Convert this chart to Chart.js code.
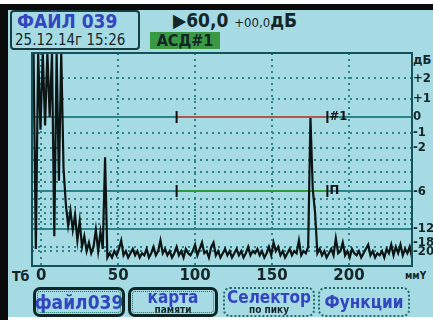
<!DOCTYPE html>
<html>
<head>
<meta charset="utf-8">
<script src="https://cdn.jsdelivr.net/npm/chart.js@4"></script>
<style>
  html, body { margin: 0; padding: 0; background: #fff; }
  body { width: 433px; height: 320px; position: relative; overflow: hidden;
         font-family: 'DejaVu Sans Condensed', 'DejaVu Sans', sans-serif; font-stretch: condensed; }
  .abs { position: absolute; }
  #edgeT { left: 0; top: 4px; width: 433px; height: 6px; background: #0b0b0b; }
  #edgeL { left: 0; top: 4px; width: 8px; height: 316px; background: #0b0b0b; }
  #lcd { left: 8px; top: 10px; width: 425px; height: 307px; background: #a7dbe4; }
  #chart { left: 0; top: 0; }
  #fileBox { left: 10px; top: 10px; width: 130px; height: 40px; box-sizing: border-box;
             border: 2px solid #173c40; border-radius: 4px; }
  .txt { white-space: nowrap; font-weight: bold; color: #142628; }
  #fileName { left: 17px; top: 12px; font-size: 19px; line-height: 19px; color: #3246be; }
  #fileDate { left: 15px; top: 33px; font-size: 15px; line-height: 15px; font-weight: normal; }
  #gain { left: 173px; top: 11px; font-size: 19px; line-height: 19px; }
  #gain .small { font-size: 13px; font-weight: normal; }
  #mode { left: 150px; top: 32px; width: 70px; height: 17px; background: #3a9a44;
          font-size: 16px; line-height: 17px; text-align: center; }
  #unitDb { left: 413px; top: 53px; font-size: 13px; line-height: 13px; }
  #unitT { left: 12px; top: 269px; font-size: 14px; line-height: 14px; }
  #unitMm { left: 405px; top: 271px; font-size: 10px; line-height: 10px; }
  .btn { top: 287px; height: 30px; box-sizing: border-box; border-radius: 7px;
         display: flex; flex-direction: column; align-items: center; justify-content: center; }
  .btn.solid { border: 3px solid #0e2626; outline: 1px dotted #1a7070; outline-offset: -5px; }
  .btn.dot { border: 2px dotted #1e6e70; }
  .btn .main { font-size: 17px; line-height: 16px; color: #3246be; font-weight: bold; }
  .btn .sub { font-size: 10px; line-height: 10px; color: #142628; font-weight: bold; }
</style>
</head>
<body>
<div class="abs" id="edgeT"></div>
<div class="abs" id="edgeL"></div>
<div class="abs" id="lcd"></div>
<div class="abs" id="fileBox"></div>
<div class="abs txt" id="fileName">ФАЙЛ 039</div>
<div class="abs txt" id="fileDate">25.12.14г 15:26</div>
<div class="abs txt" id="gain">▶60,0 <span class="small">+00,0</span>дБ</div>
<div class="abs txt" id="mode">АСД#1</div>
<div class="abs txt" id="unitDb">дБ</div>
<div class="abs txt" id="unitT">Тб</div>
<div class="abs txt" id="unitMm">ммY</div>
<canvas class="abs" id="chart" width="433" height="320"></canvas>
<div class="abs btn solid" style="left:33px;width:92px"><span class="main" style="font-size:19px">файл039</span></div>
<div class="abs btn solid" style="left:128px;width:90px"><span class="main">карта</span><span class="sub">памяти</span></div>
<div class="abs btn dot" style="left:223px;width:92px"><span class="main">Селектор</span><span class="sub">по пику</span></div>
<div class="abs btn dot" style="left:318px;width:92px"><span class="main">Функции</span></div>
<script>
// ── А-развёртка: амплитуда (% высоты экрана) через каждые 1,5 мм ─────
const depthStartMm = -5;
const sampleStepMm = 1.5;
const amplitude = [
  100, 8, 100, 64, 100, 66, 100, 70, 100, 14,
  100, 40, 100, 46, 29, 19, 26, 17, 24, 12,
  21, 9, 14, 7, 11, 6, 9, 17, 7, 16,
  8, 51, 4, 6, 4, 7, 5, 8, 12, 5,
  7, 4, 6, 8, 5, 7, 4, 6, 5, 8,
  4, 6, 9, 5, 7, 12, 6, 8, 5, 7,
  4, 6, 9, 5, 7, 4, 8, 6, 5, 7,
  10, 5, 8, 11, 6, 7, 4, 9, 11, 5,
  7, 4, 6, 8, 5, 7, 4, 6, 8, 5,
  7, 4, 6, 9, 5, 7, 6, 8, 5, 7,
  4, 6, 9, 5, 11, 7, 9, 5, 7, 4,
  6, 8, 5, 7, 6, 12, 5, 7, 6, 9,
  69.5, 36, 25, 6, 8, 5, 7, 4, 6, 8,
  5, 13, 6, 7, 11, 5, 7, 4, 8, 6,
  5, 7, 4, 6, 8, 10, 5, 7, 4, 6,
  5, 7, 4, 8, 6, 10, 5, 9, 6, 10,
  5, 8, 6, 9, 4
];

// ── Оси ─────────────────────────────────────────────────────────────
const xTicks = [0, 50, 100, 150, 200];
const gateLevel = 70;   // уровень 0 дБ, % высоты
const dbLevels = [2, 1, 0, -1, -2, -3, -4, -5, -6, -7, -8, -9, -10, -11, -12, -18, -20];
// -18 и -20 стоят слишком близко, прибор пишет их столбиком
const dbLabels = ['+2', '+1', '0', '-1', '-2', '', '', '', '-6', '', '', '', '', '', '-12', ['-18', '-20'], ''];
const dbSolid = [0, -6, -12];

// ── Стробы ──────────────────────────────────────────────────────────
const gateNames = ['#1', 'П'];
const gateStartMm = [88, 88];
const gateEndMm = [186, 186];
const gateDb = [0, -6];

const gateColors = ['#b4544e', '#2f9a3c'];
const gridColor = '#2a8489';
const inkColor = '#142628';
const condensed = "'DejaVu Sans Condensed', 'DejaVu Sans', sans-serif";

const dbToAmp = db => gateLevel * Math.pow(10, db / 20);

const screenPlugin = {
  id: 'screen',
  beforeDatasetsDraw(chart) {
    const { ctx, scales: { x, y } } = chart;
    ctx.save();
    gateNames.forEach((name, i) => {
      const x0 = x.getPixelForValue(gateStartMm[i]);
      const x1 = x.getPixelForValue(gateEndMm[i]);
      const py = Math.round(y.getPixelForValue(dbToAmp(gateDb[i])));
      ctx.lineWidth = 2;
      ctx.strokeStyle = gateColors[i];
      ctx.beginPath();
      ctx.moveTo(x0, py);
      ctx.lineTo(x1, py);
      ctx.stroke();
      // засечки начала и конца строба
      ctx.strokeStyle = '#111';
      ctx.beginPath();
      ctx.moveTo(x0, py - 6); ctx.lineTo(x0, py + 6);
      ctx.moveTo(x1, py - 6); ctx.lineTo(x1, py + 6);
      ctx.stroke();
      ctx.fillStyle = '#111';
      ctx.font = 'bold 13px ' + condensed;
      ctx.textBaseline = 'middle';
      ctx.fillText(name, x1 + 2, py);
    });
    ctx.restore();
  },
  afterDraw(chart) {
    const { ctx, chartArea: a } = chart;
    ctx.save();
    ctx.strokeStyle = '#12525a';
    ctx.lineWidth = 2;
    ctx.strokeRect(a.left, a.top, a.right - a.left, a.bottom - a.top);
    ctx.restore();
  }
};

new Chart(document.getElementById('chart'), {
  type: 'line',
  data: {
    datasets: [{
      data: amplitude.map((a, i) => ({ x: depthStartMm + i * sampleStepMm, y: a })),
      borderColor: '#0c1414',
      borderWidth: 2.2,
      pointRadius: 0,
      tension: 0
    }]
  },
  options: {
    responsive: false,
    animation: false,
    devicePixelRatio: 1,
    layout: { padding: { left: 32, top: 53, right: 0, bottom: 34 } },
    plugins: { legend: { display: false }, tooltip: { enabled: false } },
    scales: {
      x: {
        type: 'linear',
        min: -6,
        max: 241,
        afterBuildTicks: s => { s.ticks = xTicks.map(v => ({ value: v })); },
        afterFit: s => { s.height = 20; },
        border: { display: false, dash: [2, 4] },
        grid: { color: gridColor, lineWidth: 2, drawTicks: false },
        ticks: {
          padding: 3,
          color: inkColor,
          font: { family: 'DejaVu Sans', size: 15, weight: 'bold', lineHeight: 1 },
          maxRotation: 0,
          autoSkip: false
        }
      },
      y: {
        position: 'right',
        min: 0,
        max: 100,
        afterBuildTicks: s => { s.ticks = dbLevels.map(db => ({ value: dbToAmp(db) })); },
        afterFit: s => { s.width = 21; },
        border: {
          display: false,
          dash: c => (c.type === 'tick' && dbSolid.includes(dbLevels[c.index])) ? [] : [2, 4]
        },
        grid: { color: gridColor, lineWidth: 2, drawTicks: false },
        ticks: {
          padding: 1,
          color: inkColor,
          autoSkip: false,
          font: { family: condensed, size: 13, weight: 'bold', lineHeight: 0.75 },
          callback: (v, i) => dbLabels[i]
        }
      }
    }
  },
  plugins: [screenPlugin]
});
</script>
</body>
</html>
